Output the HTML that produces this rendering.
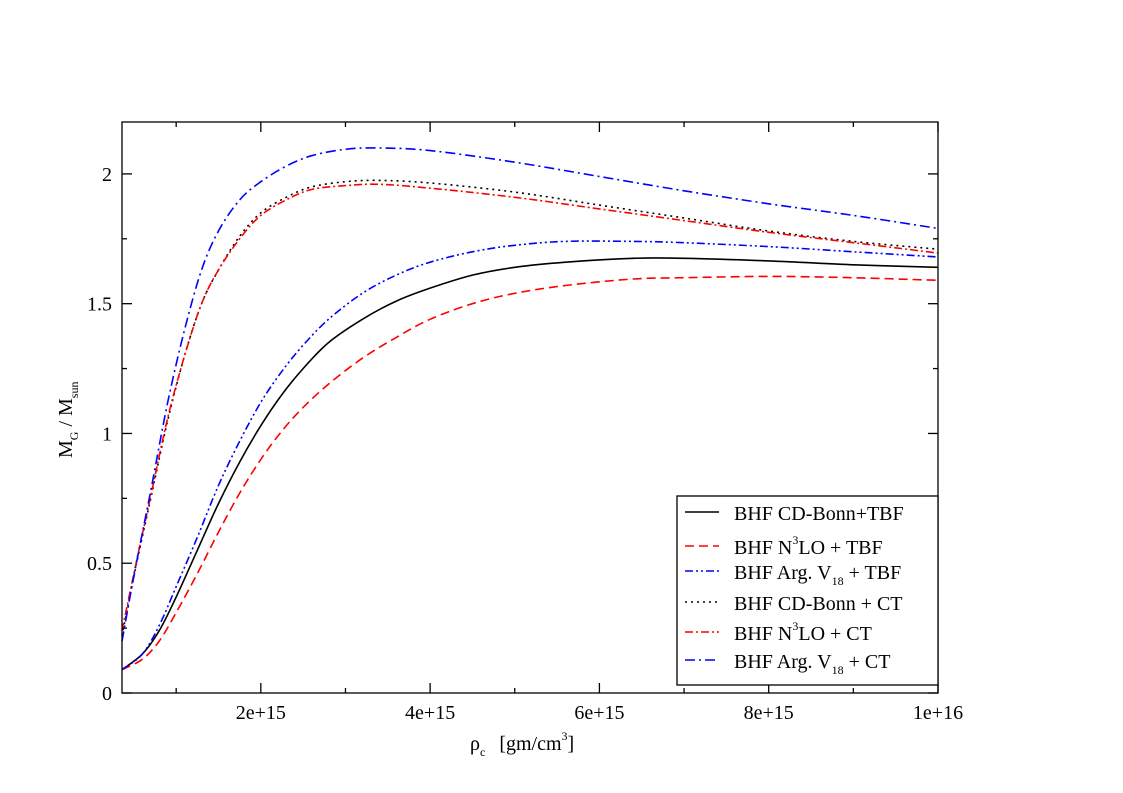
<!DOCTYPE html>
<html><head><meta charset="utf-8">
<style>
html,body{margin:0;padding:0;background:#fff;}
svg{display:block;}
svg text{font-family:"Liberation Serif","DejaVu Serif",serif;}
</style></head>
<body>
<svg id="chart" width="1123" height="793" viewBox="0 0 1123 793" xmlns="http://www.w3.org/2000/svg" font-family="Liberation Serif, serif">
<rect x="0" y="0" width="1123" height="793" fill="#fff"/>
<g id="series"></g>
<rect x="122" y="122" width="816" height="571" fill="none" stroke="#000" stroke-width="1.3"/>
<g id="ticks"></g>
<text x="470" y="750" font-size="20" font-family="Liberation Serif, serif">ρ<tspan font-size="12" dy="6">c</tspan><tspan dy="-6" dx="14">[gm/cm</tspan><tspan font-size="12" dy="-10">3</tspan><tspan dy="10">]</tspan></text>
<text transform="translate(72,458) rotate(-90)" font-size="20" font-family="Liberation Serif, serif">M<tspan font-size="12" dy="6">G</tspan><tspan dy="-6"> / M</tspan><tspan font-size="12" dy="6">sun</tspan></text>
<g>
<rect x="677" y="496" width="261" height="189" fill="#fff" stroke="#000" stroke-width="1.3"/>
<g id="legend-items"></g>
</g>
</svg>
<script>
const X0 = 0.36, X1 = 10, Y0 = 0, Y1 = 2.2;
const PX = 122, PW = 816, PY = 122, PH = 571;
function sx(v){ return PX + (v - X0) / (X1 - X0) * PW; }
function sy(v){ return PY + PH - (v - Y0) / (Y1 - Y0) * PH; }

const seriesNames = ["BHF CD-Bonn+TBF","BHF N3LO + TBF","BHF Arg. V18 + TBF","BHF CD-Bonn + CT","BHF N3LO + CT","BHF Arg. V18 + CT"];
const xTBF = [0.36,0.6,0.8,1.0,1.25,1.5,1.75,2.0,2.25,2.5,2.8,3.2,3.6,4.0,4.5,5.0,5.6,6.4,7.0,8.0,9.0,10.0];
const yCDBonnTBF = [0.09,0.15,0.24,0.37,0.55,0.73,0.89,1.03,1.15,1.25,1.35,1.44,1.51,1.56,1.61,1.64,1.66,1.675,1.675,1.665,1.65,1.64];
const yN3LOTBF = [0.09,0.13,0.20,0.31,0.46,0.62,0.77,0.90,1.01,1.10,1.19,1.29,1.37,1.44,1.50,1.54,1.57,1.595,1.60,1.605,1.60,1.59];
const yAV18TBF = [0.09,0.15,0.26,0.41,0.60,0.80,0.97,1.12,1.24,1.34,1.44,1.54,1.61,1.66,1.70,1.725,1.74,1.74,1.735,1.72,1.70,1.68];
const xCT = [0.36,0.5,0.7,0.9,1.1,1.3,1.5,1.75,2.0,2.3,2.6,3.0,3.4,4.0,5.0,6.0,7.0,8.0,9.0,10.0];
const yCDBonnCT = [0.22,0.45,0.75,1.05,1.30,1.50,1.63,1.76,1.85,1.91,1.95,1.97,1.975,1.965,1.93,1.88,1.83,1.78,1.74,1.71];
const yN3LOCT = [0.24,0.46,0.76,1.06,1.30,1.50,1.63,1.75,1.84,1.90,1.94,1.955,1.96,1.945,1.91,1.865,1.82,1.775,1.735,1.695];
const yAV18CT = [0.20,0.45,0.78,1.12,1.40,1.63,1.78,1.90,1.97,2.03,2.07,2.095,2.10,2.09,2.045,1.99,1.935,1.885,1.84,1.79];
const xTicks = [2,4,6,8,10];
const xTickLabels = ["2e+15","4e+15","6e+15","8e+15","1e+16"];
const xMinor = [1,3,5,7,9];
const yTicks = [0,0.5,1,1.5,2];
const yTickLabels = ["0","0.5","1","1.5","2"];
const yMinor = [0.25,0.75,1.25,1.75];

const styles = [
  {c:"#000", d:""},
  {c:"#f00", d:"9,5"},
  {c:"#00f", d:"8,3,2,3,2,3"},
  {c:"#000", d:"2,4"},
  {c:"#f00", d:"8,3,2,3"},
  {c:"#00f", d:"10,4,2,4"}
];
const seriesData = [[xTBF,yCDBonnTBF],[xTBF,yN3LOTBF],[xTBF,yAV18TBF],[xCT,yCDBonnCT],[xCT,yN3LOCT],[xCT,yAV18CT]];
const seriesKeys = ["cd-bonn-tbf","n3lo-tbf","av18-tbf","cd-bonn-ct","n3lo-ct","av18-ct"];
const NS = "http://www.w3.org/2000/svg";
const FONT = "Liberation Serif, serif";
const g = document.getElementById("series");

function pathFor(xs, ys){
  const p = xs.map((x,i)=>[sx(x), sy(ys[i])]);
  let d = "M"+p[0][0].toFixed(1)+","+p[0][1].toFixed(1);
  for(let i=0;i<p.length-1;i++){
    const p0=p[Math.max(i-1,0)],p1=p[i],p2=p[i+1],p3=p[Math.min(i+2,p.length-1)];
    const c1=[p1[0]+(p2[0]-p0[0])/6,p1[1]+(p2[1]-p0[1])/6];
    const c2=[p2[0]-(p3[0]-p1[0])/6,p2[1]-(p3[1]-p1[1])/6];
    d+=" C"+c1[0].toFixed(1)+","+c1[1].toFixed(1)+" "+c2[0].toFixed(1)+","+c2[1].toFixed(1)+" "+p2[0].toFixed(1)+","+p2[1].toFixed(1);
  }
  return d;
}
seriesData.forEach((s,i)=>{
  const el = document.createElementNS(NS,"path");
  el.setAttribute("d", pathFor(s[0], s[1]));
  el.setAttribute("fill","none");
  el.setAttribute("stroke",styles[i].c);
  el.setAttribute("stroke-width","1.6");
  if(styles[i].d) el.setAttribute("stroke-dasharray",styles[i].d);
  
  
  g.appendChild(el);
});

const tg = document.getElementById("ticks");
function line(x1,y1,x2,y2,name){
  const l=document.createElementNS(NS,"line");
  l.setAttribute("x1",x1);l.setAttribute("y1",y1);l.setAttribute("x2",x2);l.setAttribute("y2",y2);
  l.setAttribute("stroke","#000");l.setAttribute("stroke-width","1.3");
  
  
  tg.appendChild(l);
}
function text(x,y,s,anchor,name){
  const t=document.createElementNS(NS,"text");
  t.setAttribute("x",x);t.setAttribute("y",y);t.setAttribute("text-anchor",anchor);
  t.setAttribute("font-size","20");t.setAttribute("font-family",FONT);t.textContent=s;
  
  
  tg.appendChild(t);
}
const B = PY+PH, T = PY, L = PX, R = PX+PW;
xTicks.forEach((v,i)=>{
  const x=sx(v);
  line(x,B,x,B-10,"x-major-tick");
  line(x,T,x,T+10,"x-major-tick-top");
  text(x,B+26,xTickLabels[i],"middle","x-tick-label");
});
xMinor.forEach(v=>{
  const x=sx(v);
  line(x,B,x,B-5,"x-minor-tick");
  line(x,T,x,T+5,"x-minor-tick-top");
});
yTicks.forEach((v,i)=>{
  const y=sy(v);
  line(L,y,L+10,y,"y-major-tick");
  line(R,y,R-10,y,"y-major-tick-right");
  text(L-10,y+7,yTickLabels[i],"end","y-tick-label");
});
yMinor.forEach(v=>{
  const y=sy(v);
  line(L,y,L+5,y,"y-minor-tick");
  line(R,y,R-5,y,"y-minor-tick-right");
});

const lg = document.getElementById("legend-items");
const legendY = [514,548,573,604,634,662];
const legendHTML = [
  'BHF CD-Bonn+TBF',
  'BHF N<tspan font-size="12" dy="-10">3</tspan><tspan dy="10">LO + TBF</tspan>',
  'BHF Arg. V<tspan font-size="12" dy="6">18</tspan><tspan dy="-6"> + TBF</tspan>',
  'BHF CD-Bonn + CT',
  'BHF N<tspan font-size="12" dy="-10">3</tspan><tspan dy="10">LO + CT</tspan>',
  'BHF Arg. V<tspan font-size="12" dy="6">18</tspan><tspan dy="-6"> + CT</tspan>'
];
legendY.forEach((y,i)=>{
  const item=document.createElementNS(NS,"g");
  
  
  const l=document.createElementNS(NS,"line");
  l.setAttribute("x1",685);l.setAttribute("x2",719);l.setAttribute("y1",y-2);l.setAttribute("y2",y-2);
  l.setAttribute("stroke",styles[i].c);l.setAttribute("stroke-width","1.6");
  if(styles[i].d) l.setAttribute("stroke-dasharray",styles[i].d);
  item.appendChild(l);
  const t=document.createElementNS(NS,"text");
  t.setAttribute("x",734);t.setAttribute("y",y+6);t.setAttribute("font-size","20");
  t.setAttribute("font-family",FONT);
  t.innerHTML=legendHTML[i];
  item.appendChild(t);
  lg.appendChild(item);
});
</script>
</body></html>
